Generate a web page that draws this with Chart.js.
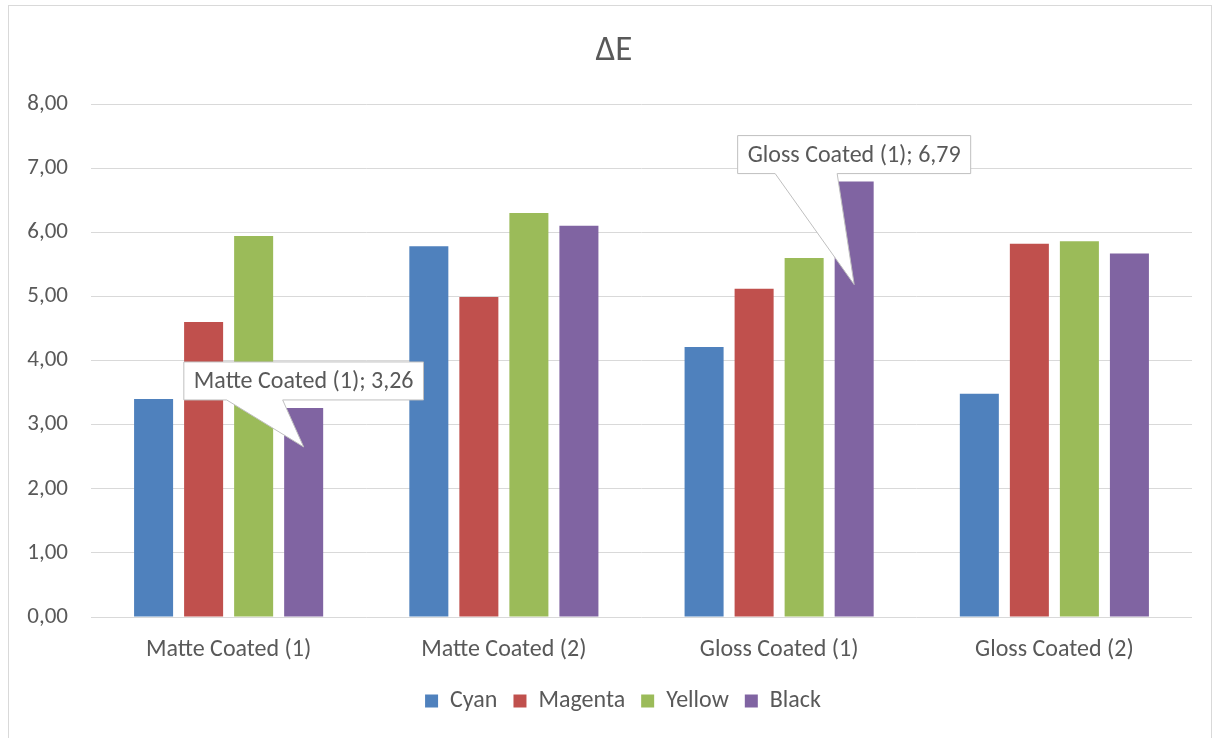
<!DOCTYPE html>
<html>
<head>
<meta charset="utf-8">
<script src="https://cdn.jsdelivr.net/npm/chart.js@4.4.1/dist/chart.umd.min.js"></script>
<style>
  html, body { margin: 0; padding: 0; background: #fff; }
  #wrap { position: relative; width: 1219px; height: 738px; }
  #frame { position: absolute; left: 8px; top: 5px; width: 1204px; height: 740px; border: 1px solid #d9d9d9; box-sizing: border-box; }
  canvas { position: absolute; left: 0; top: 0; }
</style>
</head>
<body>
<div id="wrap">
  <div id="frame"></div>
  <canvas id="c" width="1219" height="738"></canvas>
</div>
<script>
const categories = ['Matte Coated (1)', 'Matte Coated (2)', 'Gloss Coated (1)', 'Gloss Coated (2)'];
const seriesNames = ['Cyan', 'Magenta', 'Yellow', 'Black'];
const cyanValues = [3.40, 5.78, 4.21, 3.48];
const magentaValues = [4.60, 4.99, 5.12, 5.82];
const yellowValues = [5.94, 6.30, 5.60, 5.86];
const blackValues = [3.26, 6.10, 6.79, 5.67];
const yTicks = [0, 1, 2, 3, 4, 5, 6, 7, 8];
const titleText = 'ΔE';

const colors = ['#4F81BD', '#C0504D', '#9BBB59', '#8064A2'];
const FONT = "Carlito, Lato, 'Open Sans', sans-serif";
const TEXT = '#595959';

const fmt = v => v.toFixed(2).replace('.', ',');

// callouts (which bar) and their drawing style
const callouts = [
  { ds: 3, idx: 0, gap: 8, tipDy: 39, baseL: -77, baseR: -21 },
  { ds: 3, idx: 2, gap: 8, tipDy: 103, baseL: -79, baseR: -17 }
];

const calloutPlugin = {
  id: 'callouts',
  afterDatasetsDraw(chart) {
    const ctx = chart.ctx;
    ctx.save();
    ctx.font = '24px ' + FONT;
    callouts.forEach(c => {
      const el = chart.getDatasetMeta(c.ds).data[c.idx];
      const val = chart.data.datasets[c.ds].data[c.idx];
      const label = chart.data.labels[c.idx] + '; ' + fmt(val);
      const w = ctx.measureText(label).width + 20;
      const h = 38;
      const cx = el.x;
      const bottom = el.y - c.gap;
      const top = bottom - h;
      const left = cx - w / 2, right = cx + w / 2;
      const tipX = el.x, tipY = el.y + c.tipDy;
      ctx.beginPath();
      ctx.moveTo(left, top);
      ctx.lineTo(right, top);
      ctx.lineTo(right, bottom);
      ctx.lineTo(cx + c.baseR, bottom);
      ctx.lineTo(tipX, tipY);
      ctx.lineTo(cx + c.baseL, bottom);
      ctx.lineTo(left, bottom);
      ctx.closePath();
      ctx.fillStyle = '#ffffff';
      ctx.fill();
      ctx.strokeStyle = '#bfbfbf';
      ctx.lineWidth = 1;
      ctx.stroke();
      ctx.fillStyle = TEXT;
      ctx.textAlign = 'center';
      ctx.textBaseline = 'middle';
      ctx.fillText(label, cx, top + h / 2 + 1);
    });
    ctx.restore();
  }
};

// shift the legend and title blocks to sit centred like the original
const blockShift = {
  id: 'blockShift',
  afterLayout(chart) {
    if (chart.legend) {
      chart.legend.left += 27;
      chart.legend.right += 27;
    }
    if (chart.titleBlock) {
      chart.titleBlock.left += 18;
      chart.titleBlock.right += 18;
    }
  }
};

const seriesData = [cyanValues, magentaValues, yellowValues, blackValues];

new Chart(document.getElementById('c'), {
  type: 'bar',
  data: {
    labels: categories,
    datasets: seriesNames.map((n, i) => ({
      label: n,
      data: seriesData[i],
      backgroundColor: colors[i],
      borderWidth: 0,
      categoryPercentage: 0.727,
      barPercentage: 0.78
    }))
  },
  options: {
    responsive: false,
    animation: false,
    devicePixelRatio: 1,
    layout: { padding: { left: 0, right: 27, top: 0, bottom: 15 } },
    plugins: {
      title: {
        display: true,
        text: titleText,
        color: TEXT,
        font: { family: FONT, size: 35, weight: 'normal' },
        padding: { top: 30, bottom: 32 }
      },
      legend: {
        position: 'bottom',
        labels: {
          color: TEXT,
          font: { family: FONT, size: 24 },
          boxWidth: 13,
          boxHeight: 13,
          padding: 16
        }
      },
      tooltip: { enabled: false }
    },
    scales: {
      x: {
        afterFit: s => { s.height = 56; },
        grid: { display: false, drawTicks: false },
        border: { display: false },
        ticks: { color: TEXT, font: { family: FONT, size: 24 }, padding: 19 }
      },
      y: {
        min: 0,
        max: 8,
        afterBuildTicks: s => { s.ticks = yTicks.map(v => ({ value: v })); },
        afterFit: s => { s.width = 91; },
        grid: { color: '#d9d9d9', drawTicks: false, lineWidth: 1 },
        border: { display: false },
        ticks: { color: TEXT, font: { family: FONT, size: 23 }, padding: 23, callback: v => fmt(v) }
      }
    }
  },
  plugins: [calloutPlugin, blockShift]
});
</script>
</body>
</html>
